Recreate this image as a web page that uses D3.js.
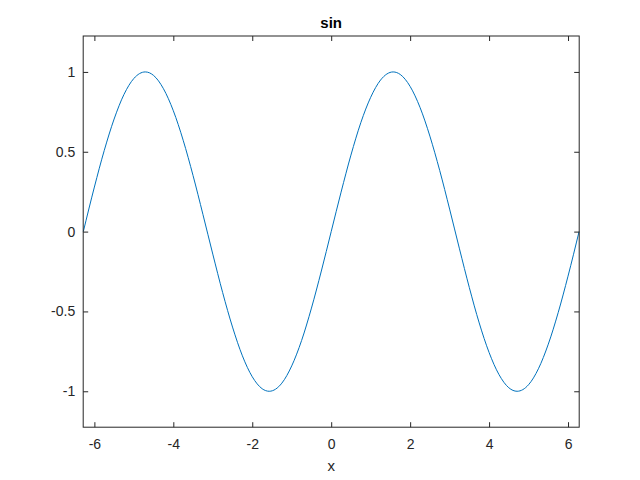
<!DOCTYPE html>
<html><head><meta charset="utf-8">
<script src="https://cdn.jsdelivr.net/npm/d3@7"></script>
<style>body{margin:0;background:#fff;}svg{display:block;}</style>
</head><body>
<script>
const xValues = [-6.28,-6,-5.75,-5.5,-5.25,-5,-4.71,-4.5,-4.25,-4,-3.75,-3.5,-3.25,-3,-2.75,-2.5,-2.25,-2,-1.75,-1.57,-1.25,-1,-0.75,-0.5,-0.25,0,0.25,0.5,0.75,1,1.25,1.57,1.75,2,2.25,2.5,2.75,3,3.25,3.5,3.75,4,4.25,4.5,4.71,5,5.25,5.5,5.75,6,6.28];
const yValues = [0,0.279,0.508,0.705,0.859,0.959,1,0.978,0.895,0.757,0.572,0.351,0.108,-0.141,-0.382,-0.598,-0.778,-0.909,-0.984,-1,-0.949,-0.841,-0.682,-0.479,-0.247,0,0.247,0.479,0.682,0.841,0.949,1,0.984,0.909,0.778,0.598,0.382,0.141,-0.108,-0.351,-0.572,-0.757,-0.895,-0.978,-1,-0.959,-0.859,-0.705,-0.508,-0.279,0];
const xTicks = [-6,-4,-2,0,2,4,6];
const yTicks = [-1,-0.5,0,0.5,1];
const titleText = "sin";
const xLabelText = "x";

const W=640,H=480;
const L=83.2,R=579.2,T=36,B=427.2;
const svg=d3.select("body").append("svg").attr("width",W).attr("height",H);
const x=d3.scaleLinear().domain([-6.2832,6.2832]).range([L,R]);
const y=d3.scaleLinear().domain([-1.225,1.225]).range([B,T]);
const axC="#262626";
const font="'Liberation Sans', Arial, Helvetica, sans-serif";

const line=d3.line().x((d,i)=>x(xValues[i])).y(d=>y(d)).curve(d3.curveMonotoneX);
svg.append("path").datum(yValues).attr("d",line).attr("fill","none").attr("stroke","#0072BD").attr("stroke-width",1);

const tl=5;
function styleAxis(g){
  g.select(".domain").remove();
  g.selectAll("line").attr("stroke",axC).attr("stroke-width",1);
  g.selectAll("text").attr("fill",axC).style("font-family",font).style("font-size","14px");
}
const fmt=d=>String(d);
svg.append("g").attr("transform",`translate(0,${B})`).call(d3.axisBottom(x).tickValues(xTicks).tickSizeInner(-tl).tickSizeOuter(0).tickPadding(12).tickFormat(fmt)).call(styleAxis);
svg.append("g").attr("transform",`translate(0,${T})`).call(d3.axisTop(x).tickValues(xTicks).tickSizeInner(-tl).tickSizeOuter(0).tickFormat("")).call(styleAxis);
svg.append("g").attr("transform",`translate(${L},0)`).call(d3.axisLeft(y).tickValues(yTicks).tickSizeInner(-tl).tickSizeOuter(0).tickPadding(8).tickFormat(fmt)).call(styleAxis);
svg.append("g").attr("transform",`translate(${R},0)`).call(d3.axisRight(y).tickValues(yTicks).tickSizeInner(-tl).tickSizeOuter(0).tickFormat("")).call(styleAxis);

svg.append("rect").attr("x",L).attr("y",T).attr("width",R-L).attr("height",B-T).attr("fill","none").attr("stroke",axC).attr("stroke-width",1);

svg.append("text").attr("x",(L+R)/2).attr("y",T-8).attr("text-anchor","middle").attr("fill","#000").style("font-family",font).style("font-size","15px").style("font-weight","bold").text(titleText);
svg.append("text").attr("x",(L+R)/2).attr("y",B+44).attr("text-anchor","middle").attr("fill",axC).style("font-family",font).style("font-size","15px").text(xLabelText);
</script>
</body></html>
